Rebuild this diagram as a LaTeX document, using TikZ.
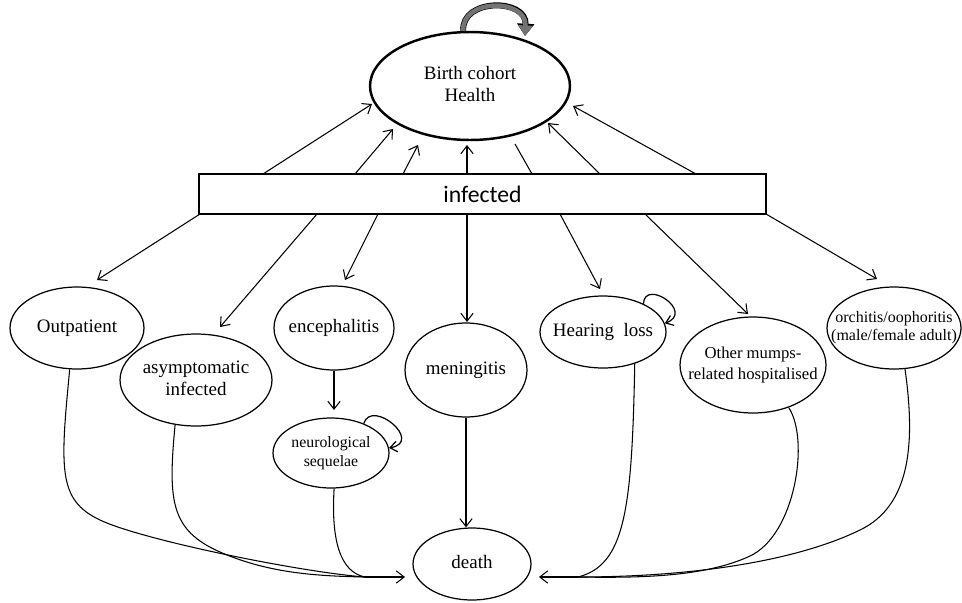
\documentclass[tikz,border=0pt]{standalone}
\usepackage{fontspec}
\setmainfont{Liberation Serif}
\newfontfamily\calib{Carlito}
\usepackage{tikz}
\usetikzlibrary{arrows.meta}
\usetikzlibrary{shapes.geometric}
% 椭圆内文字：不撑大椭圆
\newcommand{\lbl}[3]{\makebox[0pt]{\fontsize{#1}{#2}\selectfont\begin{tabular}{@{}c@{}}#3\end{tabular}}}
\tikzset{
    ellnode/.style={
        ellipse,
        draw,
        line width=0.7pt,
        inner sep=0pt
    },
    infbox/.style={
        draw,
        line width=0.8pt,
        minimum width=11.34cm,
        minimum height=0.8cm,
        font=\calib\fontsize{13.5}{16}\selectfont
    },
    % 细箭头
    thinarrow/.style={
        line width=0.6pt,
        -{Straight Barb[length=4.5pt, width=7pt]}
    },
    curveline/.style={
        line width=0.6pt
    },
    selfloop/.style={
        line width=0.7pt,
        -{Straight Barb[length=4pt, width=6pt]}
    },
    % 灰色粗箭头
    loopthick/.style={
        line width=2.6pt,
        black!55,
        -{Triangle[length=6pt, width=8pt]},
        preaction={draw=black, line width=3.4pt, -{Triangle[length=7pt, width=9.5pt]}}
    }
}
\begin{document}
\begin{tikzpicture}[x=0.02cm, y=0.02cm]
\useasboundingbox (0,0) rectangle (962,-602);

% 节点
\node[ellnode, minimum width=4cm, minimum height=2.16cm, line width=1.4pt] (birth) at (470,-86) {\lbl{10.8}{12.5}{Birth cohort\\Health}};
\node[infbox] (inf) at (482.5,-194) {infected};

\node[ellnode, minimum width=2.68cm, minimum height=1.64cm] (outp) at (77,-328) {\lbl{10.8}{12.5}{Outpatient}};
\node[ellnode, minimum width=3.04cm, minimum height=1.84cm] (asym) at (196,-380) {\lbl{10.8}{12.5}{asymptomatic\\infected}};
\node[ellnode, minimum width=2.4cm, minimum height=1.68cm] (enc) at (334,-328) {\lbl{10.8}{12.5}{encephalitis}};
\node[ellnode, minimum width=2.32cm, minimum height=1.4cm] (neuro) at (331,-453) {\lbl{9}{11.2}{neurological\\sequelae}};
\node[ellnode, minimum width=2.44cm, minimum height=1.88cm] (men) at (466,-370) {\lbl{10.8}{12.5}{meningitis}};
\node[ellnode, minimum width=2.36cm, minimum height=1.44cm] (death) at (472,-564) {\lbl{10.8}{12.5}{death}};
\node[ellnode, minimum width=2.52cm, minimum height=1.44cm] (hear) at (603,-332) {\lbl{10.8}{12.5}{Hearing\ \ loss}};
\node[ellnode, minimum width=2.92cm, minimum height=1.92cm] (other) at (753,-365) {\lbl{9.5}{11.4}{Other mumps-\\related hospitalised}};
\node[ellnode, minimum width=2.68cm, minimum height=1.64cm] (orch) at (894,-328) {\lbl{9.1}{10.4}{orchitis/oophoritis\\(male/female adult)}};

% 坐标
\path
  (263,-174) coordinate (u1) (372,-104) coordinate (h1)
  (355,-174) coordinate (u2) (393,-129) coordinate (h2)
  (403,-174) coordinate (u3) (418,-145) coordinate (h3)
  (467,-174) coordinate (u4) (467,-145) coordinate (h4)
  (532,-174) coordinate (u5) (515,-144) coordinate (h5)
  (600,-174) coordinate (u6) (548,-123) coordinate (h6)
  (696,-174) coordinate (u7) (573,-106) coordinate (h7)
  (200,-214) coordinate (d1) (97,-280) coordinate (e1)
  (317,-214) coordinate (d2) (220,-327) coordinate (e2)
  (378,-214) coordinate (d3) (345,-280) coordinate (e3)
  (467,-214) coordinate (d4) (467,-322) coordinate (e4)
  (560,-214) coordinate (d5) (600,-289) coordinate (e5)
  (645,-214) coordinate (d6) (748,-314) coordinate (e6)
  (766,-214) coordinate (d7) (877,-279) coordinate (e7)
  (334,-410) coordinate (nt)
  (525,-36) coordinate (bt)
  (365,-577) coordinate (lm) (405,-577) coordinate (lt)
  (578,-577) coordinate (rm) (539,-577) coordinate (rt)
  ;

% 回到 Birth cohort
\foreach \i in {1,2,3,4,6,7}
  \draw[thinarrow] (u\i) -- (h\i);
\draw[curveline] (u5) -- (h5);

% infected 向下
\foreach \i in {1,...,7}
  \draw[thinarrow] (d\i) -- (e\i);

\draw[loopthick] (birth.97) .. controls (461,2) and (527,2) .. (bt);

\draw[thinarrow] (enc.south) -- (nt);
\draw[thinarrow] (men.south) -- (men.south |- death.north);

% 自环
\draw[selfloop] (hear.35) .. controls (645,-278) and (695,-312) .. (hear.8);
\draw[selfloop] (neuro.42) .. controls (372,-398) and (424,-442) .. (neuro.5);

% 到 death
\draw[curveline] (outp.260) .. controls (60,-470) and (58,-500) .. (100,-520) .. controls (142,-540) and (300,-572) .. (lm);
\draw[curveline] (asym.245) .. controls (168,-500) and (170,-530) .. (220,-552) .. controls (270,-574) and (320,-576) .. (lm);
\draw[curveline] (neuro.275) .. controls (331,-540) and (340,-572) .. (lm);
\draw[thinarrow] (lm) -- (lt);

\draw[curveline] (hear.315) .. controls (632,-510) and (625,-565) .. (rm);
\draw[curveline] (other.310) .. controls (810,-440) and (795,-535) .. (750,-556) .. controls (705,-577) and (640,-578) .. (rm);
\draw[curveline] (orch.285) .. controls (915,-440) and (912,-505) .. (860,-530) .. controls (790,-564) and (680,-577) .. (rm);
\draw[thinarrow] (rm) -- (rt);
\end{tikzpicture}
\end{document}
